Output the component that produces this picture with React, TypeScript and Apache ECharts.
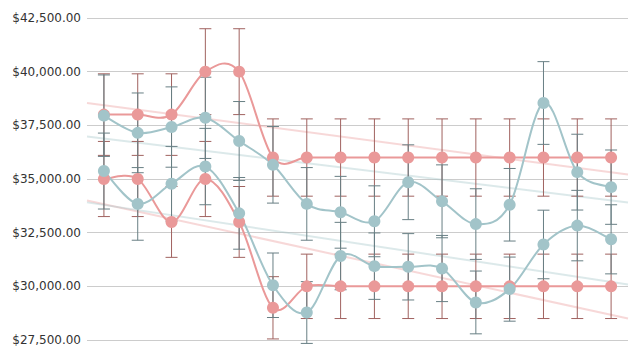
import React, { useEffect, useRef } from "react";
import * as echarts from "echarts";

const categories = ["1", "2", "3", "4", "5", "6", "7", "8", "9", "10", "11", "12", "13", "14", "15", "16"];
const redHigh = [38000, 38000, 38000, 40000, 40000, 36000, 36000, 36000, 36000, 36000, 36000, 36000, 36000, 36000, 36000, 36000];
const redLow = [35000, 35000, 33000, 35000, 33000, 29000, 30000, 30000, 30000, 30000, 30000, 30000, 30000, 30000, 30000, 30000];
const tealHigh = [37950, 37150, 37420, 37850, 36770, 35660, 33840, 33450, 33030, 34850, 33960, 32900, 33800, 38540, 35320, 34620];
const tealLow = [35370, 33840, 34780, 35580, 33400, 30050, 28780, 31410, 30940, 30910, 30830, 29250, 29870, 31950, 32830, 32190];
const errorFraction = 0.05;
const yTicks = { min: 27500, max: 42500, interval: 2500 };

const RED = "#ea9999";
const TEAL = "#a2c4c9";
const RED_BAR = "#a0625f";
const TEAL_BAR = "#687f84";
const RED_TREND = "rgba(234,153,153,0.38)";
const TEAL_TREND = "rgba(162,196,201,0.38)";

function regression(values: number[]) {
  const n = values.length;
  const mx = (n - 1) / 2;
  const my = values.reduce((a, b) => a + b, 0) / n;
  let sxy = 0;
  let sxx = 0;
  values.forEach((v, i) => {
    sxy += (i - mx) * (v - my);
    sxx += (i - mx) * (i - mx);
  });
  const b = sxy / sxx;
  const a = my - b * mx;
  const x0 = -0.5;
  const x1 = n - 0.5;
  return [
    [x0, a + b * x0],
    [x1, a + b * x1],
  ];
}

function errorData(values: number[]) {
  return values.map((v, i) => [i, v * (1 - errorFraction), v * (1 + errorFraction)]);
}

function errorSeries(values: number[], color: string) {
  return {
    type: "custom",
    xAxisIndex: 0,
    yAxisIndex: 0,
    z: 2,
    silent: true,
    data: errorData(values),
    encode: { x: 0, y: [1, 2] },
    renderItem: (params: any, api: any) => {
      const x = api.value(0);
      const lo = api.value(1);
      const hi = api.value(2);
      const top = api.coord([x, hi]);
      const bot = api.coord([x, lo]);
      const hw = 6;
      const style = { stroke: color, lineWidth: 1, fill: "none" };
      return {
        type: "group",
        children: [
          { type: "line", shape: { x1: top[0], y1: top[1], x2: bot[0], y2: bot[1] }, style },
          { type: "line", shape: { x1: top[0] - hw, y1: top[1], x2: top[0] + hw, y2: top[1] }, style },
          { type: "line", shape: { x1: bot[0] - hw, y1: bot[1], x2: bot[0] + hw, y2: bot[1] }, style },
        ],
      };
    },
  };
}

// Catmull-Rom smoothed curve through the points, positioned by the chart's own axes
function curveSeries(values: number[], color: string) {
  return {
    type: "custom",
    xAxisIndex: 0,
    yAxisIndex: 0,
    z: 3,
    silent: true,
    data: values.map((v, i) => [i, v]),
    encode: { x: 0, y: 1 },
    renderItem: (params: any, api: any) => {
      if (params.dataIndex !== 0) return null;
      const pts = values.map((v, i) => api.coord([i, v]));
      const n = pts.length;
      let d = `M${pts[0][0]},${pts[0][1]}`;
      for (let i = 0; i < n - 1; i++) {
        const p0 = pts[Math.max(0, i - 1)];
        const p1 = pts[i];
        const p2 = pts[i + 1];
        const p3 = pts[Math.min(n - 1, i + 2)];
        const c1x = p1[0] + (p2[0] - p0[0]) / 6;
        const c1y = p1[1] + (p2[1] - p0[1]) / 6;
        const c2x = p2[0] - (p3[0] - p1[0]) / 6;
        const c2y = p2[1] - (p3[1] - p1[1]) / 6;
        d += ` C${c1x},${c1y} ${c2x},${c2y} ${p2[0]},${p2[1]}`;
      }
      return {
        type: "path",
        shape: { pathData: d },
        style: { stroke: color, lineWidth: 2, fill: "none" },
      };
    },
  };
}

function markerSeries(values: number[], color: string) {
  return {
    type: "scatter",
    xAxisIndex: 0,
    yAxisIndex: 0,
    z: 4,
    data: values.map((v, i) => [i, v]),
    symbol: "circle",
    symbolSize: 12,
    itemStyle: { color, opacity: 1 },
  };
}

function trendSeries(values: number[], color: string) {
  return {
    type: "line",
    xAxisIndex: 1,
    yAxisIndex: 0,
    z: 1,
    data: regression(values),
    symbol: "none",
    silent: true,
    lineStyle: { color, width: 2 },
  };
}

export default function App() {
  const ref = useRef<HTMLDivElement>(null);
  useEffect(() => {
    if (!ref.current) return;
    const chart = echarts.init(ref.current, undefined, { renderer: "svg" });
    chart.setOption({
      animation: false,
      grid: { left: 87, right: 11, top: 18, bottom: 17, containLabel: false },
      xAxis: [
        {
          type: "category",
          data: categories,
          boundaryGap: true,
          axisLine: { show: false },
          axisTick: { show: false },
          axisLabel: { show: false },
          splitLine: { show: false },
        },
        {
          type: "value",
          min: -0.5,
          max: categories.length - 0.5,
          show: false,
        },
      ],
      yAxis: {
        type: "value",
        min: yTicks.min,
        max: yTicks.max,
        interval: yTicks.interval,
        axisLine: { show: false },
        axisTick: { show: false },
        axisLabel: {
          margin: 6,
          fontFamily: "DejaVu Sans",
          fontSize: 12,
          color: "#333",
          formatter: (v: number) =>
            "$" + v.toLocaleString("en-US", { minimumFractionDigits: 2, maximumFractionDigits: 2 }),
        },
        splitLine: { lineStyle: { color: "#cccccc", width: 1 } },
      },
      series: [
        trendSeries(redHigh, RED_TREND),
        trendSeries(redLow, RED_TREND),
        trendSeries(tealHigh, TEAL_TREND),
        trendSeries(tealLow, TEAL_TREND),
        errorSeries(redHigh, RED_BAR),
        errorSeries(redLow, RED_BAR),
        errorSeries(tealHigh, TEAL_BAR),
        errorSeries(tealLow, TEAL_BAR),
        curveSeries(redHigh, RED),
        curveSeries(redLow, RED),
        curveSeries(tealHigh, TEAL),
        curveSeries(tealLow, TEAL),
        markerSeries(redHigh, RED),
        markerSeries(redLow, RED),
        markerSeries(tealHigh, TEAL),
        markerSeries(tealLow, TEAL),
      ],
    });
    return () => chart.dispose();
  }, []);
  return (
    <div
      ref={ref}
      style={{ position: "fixed", left: 0, top: 0, width: 639, height: 357, background: "#fff" }}
    />
  );
}
